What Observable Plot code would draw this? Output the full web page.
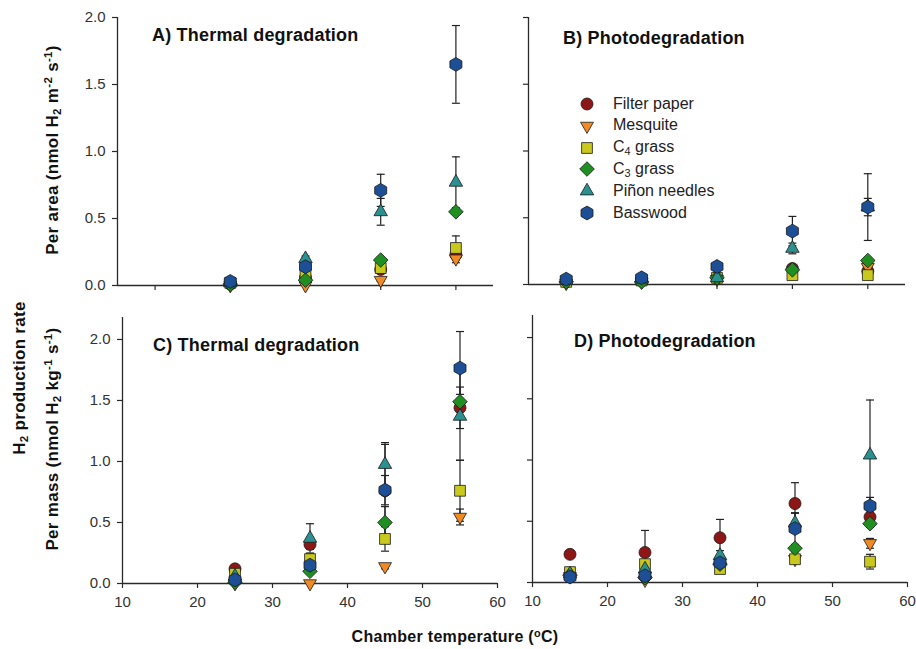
<!DOCTYPE html>
<html>
<head>
<meta charset="utf-8">
<script src="https://cdn.jsdelivr.net/npm/d3@7"></script>
<script src="https://cdn.jsdelivr.net/npm/@observablehq/plot@0.6"></script>
<style>
  body { margin: 0; background: #fff; }
  #fig { position: relative; width: 916px; height: 649px; overflow: hidden; background: #fff;
         font-family: "Liberation Sans", Arial, sans-serif; color: #111; }
  #fig svg.plotpanel { position: absolute; }
  .ttl { position: absolute; font-weight: bold; font-size: 18px; line-height: 18px; letter-spacing: 0.2px; white-space: nowrap; color: #111; }
  .ylab { position: absolute; font-weight: bold; font-size: 17px; line-height: 17px; letter-spacing: 0.3px; white-space: nowrap;
          transform: translate(-50%, -50%) rotate(-90deg); color: #111; }
  .xlab { position: absolute; font-weight: bold; font-size: 16px; line-height: 16px; letter-spacing: 0.3px; white-space: nowrap;
          transform: translateX(-50%); color: #111; }
  sub { font-size: 0.68em; vertical-align: -0.32em; line-height: 0; }
  sup { font-size: 0.68em; vertical-align: 0.5em; line-height: 0; }
  .leg { position: absolute; font-size: 16px; line-height: 16px; white-space: nowrap; color: #222; }
  .legsym { position: absolute; }
</style>
</head>
<body>
<div id="fig"></div>
<script>
// ---------- data ----------
const materials = ["Filter paper", "Mesquite", "C4 grass", "C3 grass", "Piñon needles", "Basswood"];
const legendLabels = ["Filter paper", "Mesquite", "C<sub>4</sub> grass", "C<sub>3</sub> grass", "Piñon needles", "Basswood"];
const fills = ["#8e1616", "#f08a24", "#c9c81c", "#1f8f22", "#2a9090", "#1d4f96"];

const tempsThermal = [25, 35, 45, 55];
const tempsPhoto = [15, 25, 35, 45, 55];
const yTicks = [0, 0.5, 1.0, 1.5, 2.0];
const xTicksTop = [15, 25, 35, 45, 55];
const xTicksBottom = [10, 20, 30, 40, 50, 60];

// A) per area, thermal degradation (rows follow materials)
const areaThermal = [
  [0.01, 0.06, 0.12, 0.23],
  [0.00, 0.00, 0.04, 0.20],
  [0.02, 0.08, 0.13, 0.28],
  [0.01, 0.04, 0.19, 0.55],
  [0.02, 0.20, 0.55, 0.77],
  [0.03, 0.14, 0.71, 1.65]
];
const areaThermalErr = [
  [0.00, 0.02, 0.02, 0.03],
  [0.00, 0.00, 0.01, 0.03],
  [0.00, 0.02, 0.03, 0.09],
  [0.00, 0.01, 0.02, 0.02],
  [0.00, 0.02, 0.10, 0.19],
  [0.01, 0.03, 0.12, 0.29]
];

// B) per area, photodegradation
const areaPhoto = [
  [0.02, 0.03, 0.05, 0.12, 0.10],
  [0.01, 0.02, 0.04, 0.09, 0.13],
  [0.02, 0.03, 0.05, 0.07, 0.07],
  [0.02, 0.02, 0.05, 0.11, 0.18],
  [0.03, 0.04, 0.05, 0.27, 0.58],
  [0.04, 0.05, 0.135, 0.40, 0.58]
];
const areaPhotoErr = [
  [0.00, 0.00, 0.01, 0.02, 0.02],
  [0.00, 0.00, 0.00, 0.01, 0.02],
  [0.00, 0.00, 0.00, 0.01, 0.01],
  [0.00, 0.00, 0.01, 0.02, 0.02],
  [0.00, 0.00, 0.01, 0.04, 0.065],
  [0.00, 0.01, 0.02, 0.11, 0.25]
];

// C) per mass, thermal degradation
const massThermal = [
  [0.12, 0.32, 0.76, 1.44],
  [0.00, 0.00, 0.14, 0.545],
  [0.08, 0.20, 0.365, 0.76],
  [0.01, 0.10, 0.50, 1.49],
  [0.06, 0.37, 0.975, 1.37],
  [0.03, 0.15, 0.765, 1.765]
];
const massThermalErr = [
  [0.01, 0.04, 0.38, 0.17],
  [0.00, 0.00, 0.02, 0.065],
  [0.01, 0.04, 0.10, 0.25],
  [0.01, 0.02, 0.13, 0.06],
  [0.01, 0.12, 0.18, 0.36],
  [0.01, 0.02, 0.12, 0.30]
];

// D) per mass, photodegradation
const massPhoto = [
  [0.23, 0.245, 0.365, 0.645, 0.535],
  [0.05, 0.02, 0.13, 0.19, 0.32],
  [0.085, 0.15, 0.11, 0.19, 0.17],
  [0.06, 0.04, 0.15, 0.28, 0.48],
  [0.07, 0.11, 0.22, 0.485, 1.04],
  [0.045, 0.055, 0.16, 0.44, 0.625]
];
const massPhotoErr = [
  [0.01, 0.18, 0.15, 0.17, 0.04],
  [0.00, 0.00, 0.02, 0.03, 0.04],
  [0.01, 0.03, 0.02, 0.02, 0.06],
  [0.01, 0.01, 0.02, 0.03, 0.03],
  [0.01, 0.03, 0.04, 0.08, 0.45],
  [0.01, 0.01, 0.03, 0.13, 0.07]
];

// ---------- symbols ----------
const sqrt3 = Math.sqrt(3);
const symbolTriangleDown = {
  draw(ctx, size) {
    const y = Math.sqrt(size / (sqrt3 * 3));
    ctx.moveTo(0, 2 * y);
    ctx.lineTo(-sqrt3 * y, -y);
    ctx.lineTo(sqrt3 * y, -y);
    ctx.closePath();
  }
};
const symbolHex = {
  draw(ctx, size) {
    const r = Math.sqrt(size / (3 * sqrt3 / 2));
    const a = r * sqrt3 / 2;
    ctx.moveTo(0, -r);
    ctx.lineTo(a, -r / 2);
    ctx.lineTo(a, r / 2);
    ctx.lineTo(0, r);
    ctx.lineTo(-a, r / 2);
    ctx.lineTo(-a, -r / 2);
    ctx.closePath();
  }
};
const symbolCap = {
  draw(ctx) { ctx.moveTo(-4, 0); ctx.lineTo(4, 0); }
};
const symbols = [d3.symbolCircle, symbolTriangleDown, d3.symbolSquare, d3.symbolDiamond2, d3.symbolTriangle, symbolHex];
const radii = [6, 4.8, 6.1, 6.6, 5.0, 6.3];

// ---------- build ----------
const fig = document.getElementById("fig");

function table(temps, vals, errs) {
  return materials.flatMap((m, i) => temps.map((t, j) => ({
    m, i, t, v: vals[i][j], e: errs[i][j], lo: vals[i][j] - errs[i][j], hi: vals[i][j] + errs[i][j]
  })));
}

function panel(o) {
  const data = table(o.temps, o.vals, o.errs);
  const bars = data.filter(d => d.e > 0.004);
  const ink = "#2a2a2a";
  const marks = [
    Plot.ruleY([0], {stroke: ink, strokeWidth: 1.3}),
    Plot.ruleX([10], {stroke: ink, strokeWidth: 1.3}),
    Plot.axisX({ticks: o.xTicks, tickSize: 5, tickPadding: 8, label: null, stroke: ink, strokeWidth: 1.2,
                tickFormat: o.xLabels ? (d => String(d)) : (() => ""), fill: "#333", fontSize: 15}),
    Plot.axisY({ticks: yTicks, tickSize: 5, tickPadding: 7, label: null, stroke: ink, strokeWidth: 1.2,
                tickFormat: o.yLabels ? (d => d.toFixed(1)) : (() => ""), fill: "#333", fontSize: 15}),
    Plot.ruleX(bars, {x: "t", y1: "lo", y2: "hi", stroke: "#222", strokeWidth: 1.2}),
    Plot.dot(bars, {x: "t", y: "lo", symbol: symbolCap, r: 3, fill: "none", stroke: "#222", strokeWidth: 1.2}),
    Plot.dot(bars, {x: "t", y: "hi", symbol: symbolCap, r: 3, fill: "none", stroke: "#222", strokeWidth: 1.2}),
    ...materials.map((m, i) => Plot.dot(data.filter(d => d.i === i), {
      x: "t", y: "v", symbol: symbols[i], r: radii[i], fill: fills[i], stroke: "#1a1a1a", strokeWidth: 0.8
    }))
  ];
  const svg = Plot.plot({
    width: o.width, height: o.height,
    marginLeft: o.ml, marginRight: o.mr, marginTop: o.mt, marginBottom: o.mb,
    x: {domain: [10, 60]},
    y: {domain: o.yDomain},
    style: {background: "transparent", overflow: "visible", fontFamily: '"Liberation Sans", Arial, sans-serif', fontSize: "15px", color: "#2a2a2a"},
    marks
  });
  svg.classList.add("plotpanel");
  svg.style.left = o.left + "px";
  svg.style.top = o.top + "px";
  fig.appendChild(svg);
}

panel({temps: tempsThermal, vals: areaThermal, errs: areaThermalErr, yDomain: [0, 2], xTicks: xTicksTop,
       xLabels: false, yLabels: true, left: 0, top: 0, width: 510, height: 305, ml: 117, mr: 17, mt: 17, mb: 20});
panel({temps: tempsPhoto, vals: areaPhoto, errs: areaPhotoErr, yDomain: [0, 2], xTicks: xTicksTop,
       xLabels: false, yLabels: false, left: 510, top: 0, width: 406, height: 305, ml: 18, mr: 11, mt: 17, mb: 21});
panel({temps: tempsThermal, vals: massThermal, errs: massThermalErr, yDomain: [0, 2.18], xTicks: xTicksBottom,
       xLabels: true, yLabels: true, left: 0, top: 300, width: 510, height: 320, ml: 122, mr: 13, mt: 17, mb: 37});
panel({temps: tempsPhoto, vals: massPhoto, errs: massPhotoErr, yDomain: [0, 2.18], xTicks: xTicksBottom,
       xLabels: true, yLabels: false, left: 510, top: 300, width: 406, height: 320, ml: 22, mr: 9, mt: 15, mb: 38});

// ---------- text ----------
function addHTML(cls, html, style) {
  const d = document.createElement("div");
  d.className = cls;
  d.innerHTML = html;
  Object.assign(d.style, style);
  fig.appendChild(d);
  return d;
}
addHTML("ttl", "A) Thermal degradation", {left: "152px", top: "26px"});
addHTML("ttl", "B) Photodegradation", {left: "563px", top: "29px"});
addHTML("ttl", "C) Thermal degradation", {left: "153px", top: "336px"});
addHTML("ttl", "D) Photodegradation", {left: "574px", top: "332px"});

addHTML("ylab", "H<sub>2</sub> production rate", {left: "19px", top: "378px"});
addHTML("ylab", "Per area (nmol H<sub>2</sub> m<sup>-2</sup> s<sup>-1</sup>)", {left: "52px", top: "150px"});
addHTML("ylab", "Per mass (nmol H<sub>2</sub> kg<sup>-1</sup> s<sup>-1</sup>)", {left: "52px", top: "439px"});
addHTML("xlab", "Chamber temperature (<sup>o</sup>C)", {left: "455px", top: "629px"});

// legend
legendLabels.forEach((lab, i) => {
  const cy = 104 + i * 21.8;
  const s = d3.create("svg").attr("class", "legsym").attr("width", 20).attr("height", 20)
    .style("left", (587 - 10) + "px").style("top", (cy - 10) + "px");
  s.append("path")
    .attr("transform", "translate(10,10)")
    .attr("d", d3.symbol().type(symbols[i]).size(Math.PI * radii[i] * radii[i])())
    .attr("fill", fills[i]).attr("stroke", "#1a1a1a").attr("stroke-width", 0.8);
  fig.appendChild(s.node());
  addHTML("leg", lab, {left: "613px", top: (cy - 8.5) + "px"});
});
</script>
</body>
</html>
